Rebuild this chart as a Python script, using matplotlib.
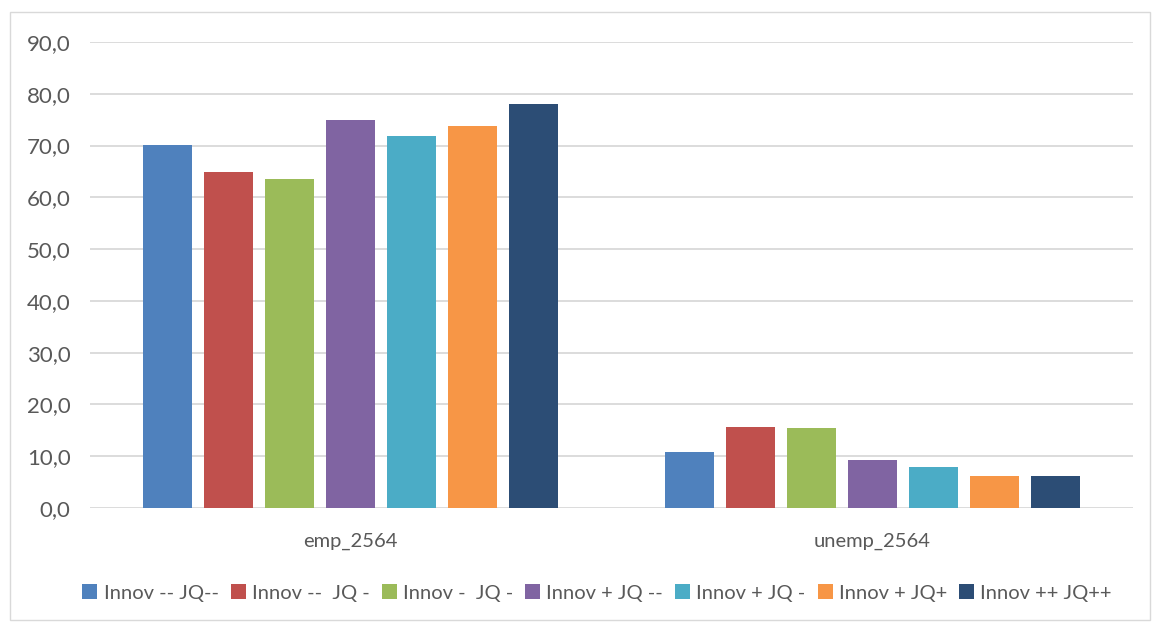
import numpy as np
import matplotlib.pyplot as plt
from matplotlib.patches import Rectangle

plt.rcParams['font.family'] = ['Lato', 'DejaVu Sans']

categories = ['emp_2564', 'unemp_2564']
series = ['Innov -- JQ--', 'Innov --  JQ -', 'Innov -  JQ -', 'Innov + JQ --',
          'Innov + JQ -', 'Innov + JQ+', 'Innov ++ JQ++']
values = [
    [70.2, 10.9],
    [64.8, 15.6],
    [63.5, 15.4],
    [75.0, 9.2],
    [71.9, 8.0],
    [73.8, 6.2],
    [78.1, 6.2],
]
colors = ['#4f81bd', '#c0504d', '#9bbb59', '#8064a2', '#4bacc6', '#f79646', '#2c4d75']
yticks = np.arange(0, 91, 10)

fig = plt.figure(figsize=(11.52, 6.23), dpi=100)
ax = fig.add_axes([90/1152, 1 - 508/623, (1133-90)/1152, (508-42)/623])

fig.patches.append(Rectangle((10/1152, 3/623), 1140/1152, 608/623, transform=fig.transFigure,
                             fill=False, edgecolor='#d9d9d9', lw=1))

x = np.arange(len(categories))
slot = 0.117
bw = 0.094
for i, (name, vals) in enumerate(zip(series, values)):
    off = (i - (len(series) - 1) / 2) * slot
    ax.bar(x + off, vals, bw, color=colors[i], label=name, zorder=3)

ax.set_xlim(-0.5, 1.5)
ax.set_ylim(0, 90)
ax.set_yticks(yticks)
ax.set_yticklabels([f'{v:.1f}'.replace('.', ',') for v in yticks])
ax.set_xticks(x)
ax.set_xticklabels(categories)
ax.grid(axis='y', color='#d9d9d9', lw=1.3, zorder=0)
for s in ax.spines.values():
    s.set_visible(False)
ax.tick_params(axis='y', length=0, labelsize=16, colors='#595959', pad=14)
ax.tick_params(axis='x', length=0, labelsize=14.5, colors='#595959', pad=18)

fig.legend(loc='center', bbox_to_anchor=(597/1152, 1 - 593/623), ncol=7, frameon=False,
           fontsize=14.5, labelcolor='#595959', handlelength=0.75, handleheight=0.75,
           handletextpad=0.3, columnspacing=0.6)

fig.savefig('out.png')
